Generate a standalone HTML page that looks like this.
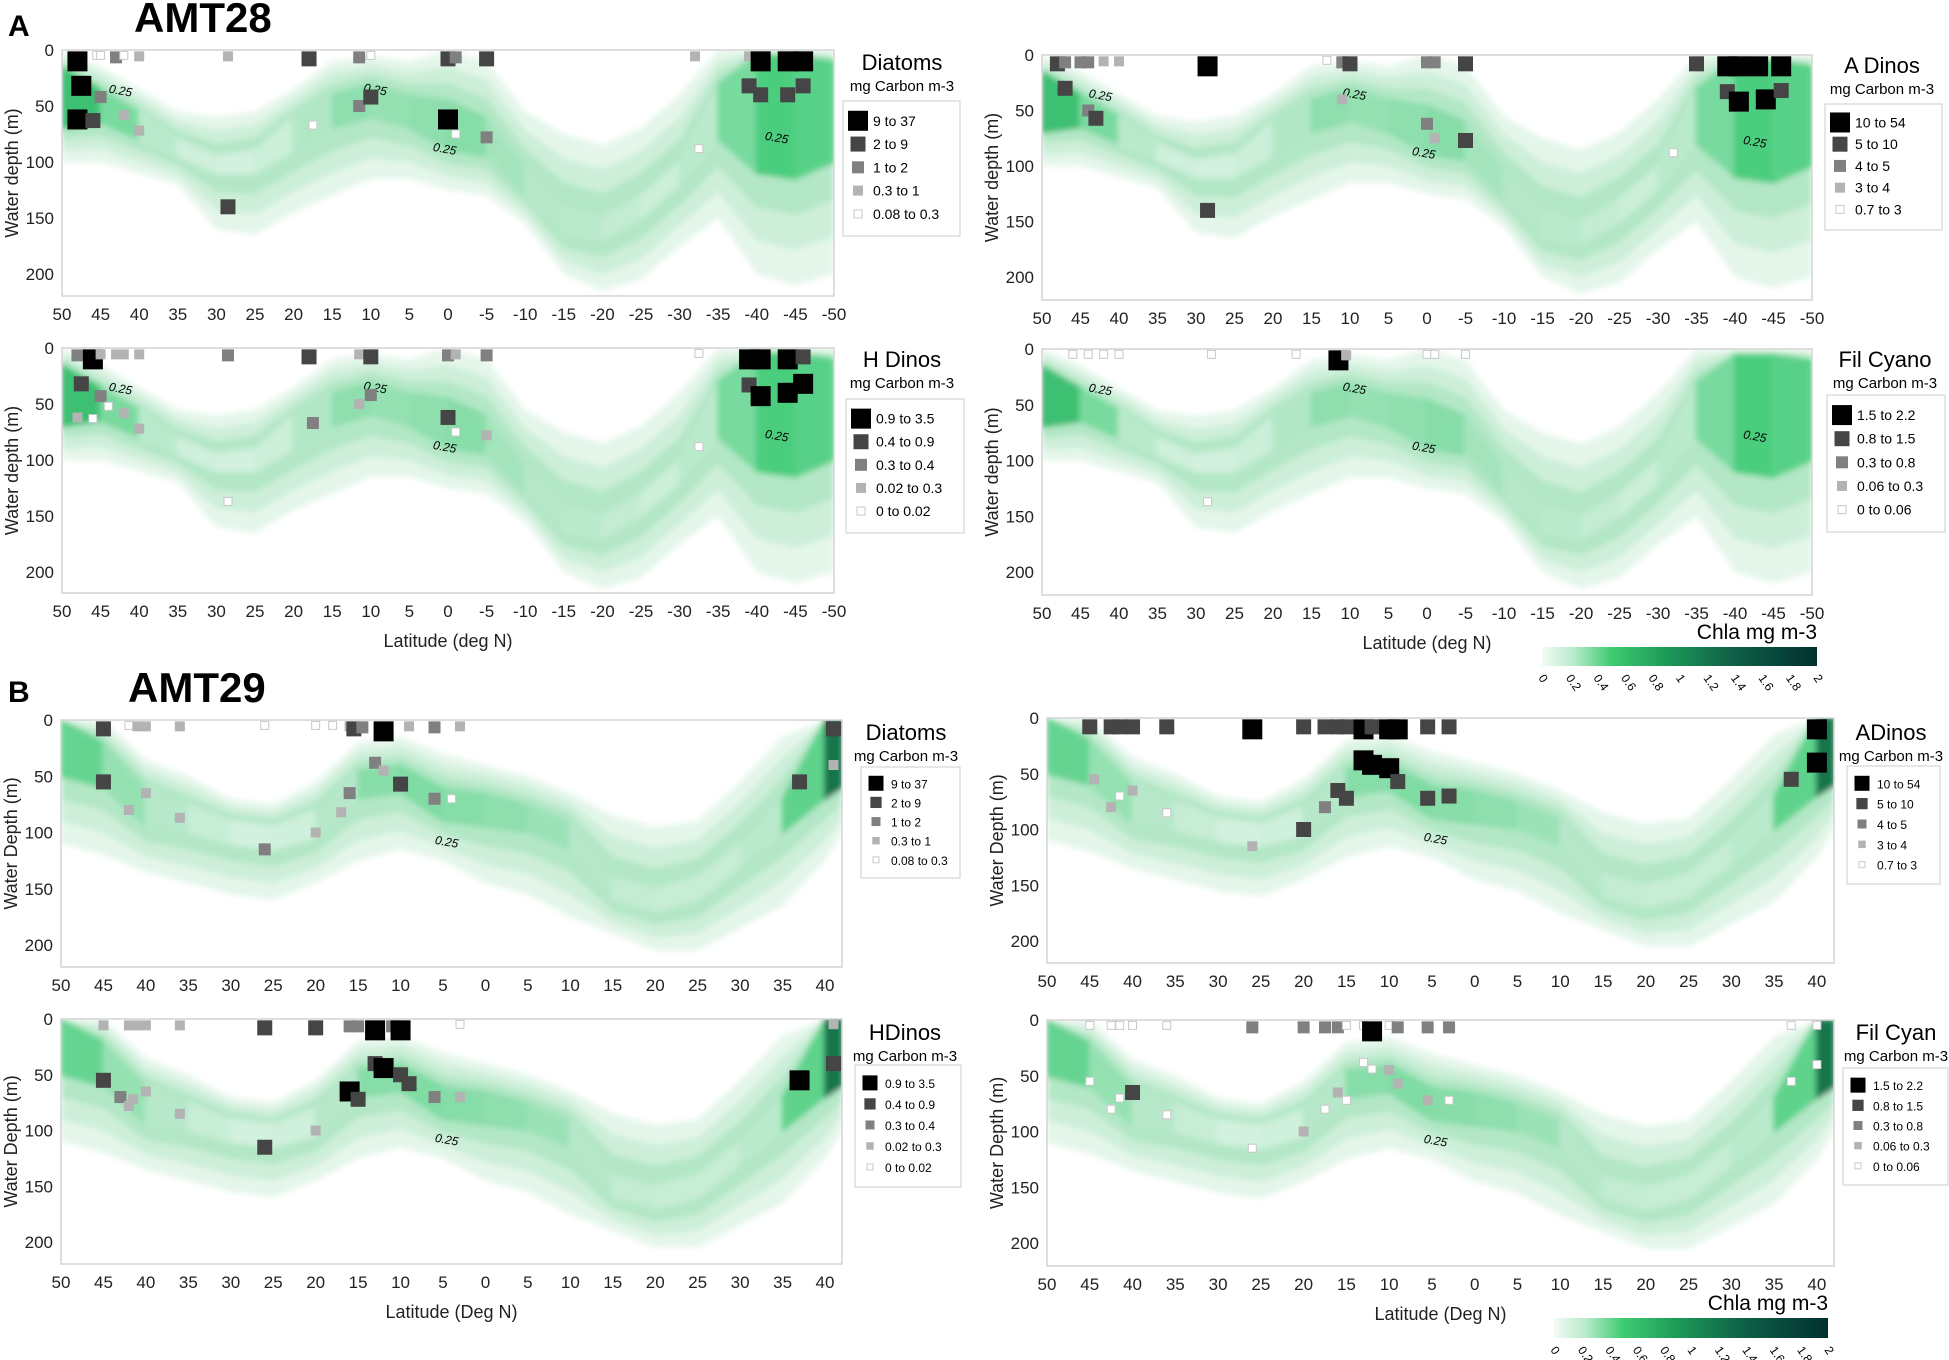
<!DOCTYPE html>
<html><head><meta charset="utf-8">
<style>
html,body{margin:0;padding:0;background:#fff;}
svg{display:block;font-family:"Liberation Sans Narrow","Liberation Sans",sans-serif;}
</style></head>
<body>
<svg id="fig" width="1949" height="1360" viewBox="0 0 1949 1360" xmlns="http://www.w3.org/2000/svg">
<defs>
<filter id="blur" x="-5%" y="-5%" width="110%" height="110%"><feGaussianBlur stdDeviation="3"/></filter>
<linearGradient id="cbar" x1="0" x2="1" y1="0" y2="0">
<stop offset="0" stop-color="#f2fbf5"/><stop offset="0.12" stop-color="#b5eac9"/><stop offset="0.25" stop-color="#3fcc72"/><stop offset="0.45" stop-color="#1e9a58"/><stop offset="0.7" stop-color="#0d5f47"/><stop offset="1" stop-color="#02302f"/>
</linearGradient>
</defs>
<text x="8" y="36" font-size="30" font-weight="bold" font-family="Liberation Sans,sans-serif">A</text>
<text x="134" y="32" font-size="42" font-weight="bold" font-family="Liberation Sans,sans-serif">AMT28</text>
<text x="8" y="702" font-size="30" font-weight="bold" font-family="Liberation Sans,sans-serif">B</text>
<text x="128" y="702" font-size="42" font-weight="bold" font-family="Liberation Sans,sans-serif">AMT29</text>
<g id="root"></g>
</svg>
<script>
// ---- Chlorophyll band data (AMT28) ----
const lat28 = [50,45,40,35,30,25,20,15,10,5,0,-5,-10,-15,-20,-25,-30,-35,-40,-45,-50];
const top28 = [0,15,35,55,60,55,35,10,5,10,0,10,55,75,85,70,40,0,0,0,0];
const bot28 = [100,100,110,120,160,165,145,130,115,115,125,130,155,200,215,205,175,150,200,210,200];
const coreTop28 = [15,35,55,80,95,90,60,40,30,40,45,60,105,140,150,130,100,30,5,5,10];
const coreBot28 = [70,65,80,95,110,110,90,70,60,70,90,95,130,165,170,150,120,80,110,115,100];
const inten28 = [0.85,0.65,0.35,0.15,0.1,0.1,0.2,0.4,0.45,0.35,0.5,0.4,0.3,0.25,0.25,0.15,0.15,0.35,0.65,0.7,0.55];
// ---- Chlorophyll band data (AMT29) ----
const lat29 = [50,45,40,35,30,25,20,15,10,5,0,-5,-10,-15,-20,-25,-30,-35,-40,-42];
const top29 = [0,0,35,50,70,75,55,20,15,30,40,50,65,85,95,90,55,15,0,0];
const bot29 = [110,120,135,145,155,160,145,125,115,125,145,155,175,190,205,205,185,165,125,100];
const coreTop29 = [0,20,60,75,90,95,80,45,40,60,65,75,90,140,150,140,110,70,0,0];
const coreBot29 = [50,60,95,100,110,115,105,70,65,90,95,100,115,160,170,160,130,100,70,60];
const inten29 = [0.65,0.5,0.3,0.25,0.1,0.1,0.15,0.4,0.5,0.45,0.45,0.4,0.35,0.2,0.2,0.15,0.2,0.3,0.9,1.0];
// ---- tick labels ----
const xTicks28 = [50,45,40,35,30,25,20,15,10,5,0,-5,-10,-15,-20,-25,-30,-35,-40,-45,-50];
const xTicks29 = [50,45,40,35,30,25,20,15,10,5,0,-5,-10,-15,-20,-25,-30,-35,-40];
const yTicks = [0,50,100,150,200];
const cbarTicks = ["0","0.2","0.4","0.6","0.8","1","1.2","1.4","1.6","1.8","2"];
// ---- markers: [lat, depth, class] ----
const diat28 = [[48,3,0],[45.5,3,4],[45,3,4],[43,3,2],[42,3,4],[40,3,3],[28.5,3,3],[18,3,1],[11.5,3,2],[10,3,4],[0,3,1],[-1,3,2],[-5,3,1],[-32,3,3],[-39,3,3],[-40.5,3,0],[-44,3,0],[-46,3,0],
 [47.5,32,0],[48,62,0],[46,63,1],[45,42,2],[42,58,3],[40,72,3],[28.5,140,1],[17.5,67,4],[11.5,50,2],[10,42,1],[0,62,0],[-1,75,4],[-5,78,2],[-32.5,88,4],[-39,32,1],[-40.5,40,1],[-44,40,1],[-46,32,1]];
const adin28 = [[48,3,1],[47,3,2],[45,3,2],[44,3,2],[42,3,3],[40,3,3],[28.5,3,0],[13,3,4],[11,3,2],[10,3,1],[0,3,2],[-1,3,2],[-5,3,1],[-35,3,1],[-39,3,0],[-40.5,3,0],[-43,3,0],[-46,3,0],
 [47,30,1],[44,50,2],[43,57,1],[11,40,3],[0,62,2],[-1,75,3],[-5,77,1],[28.5,140,1],[-32,88,4],[-39,33,1],[-40.5,42,0],[-44,40,0],[-46,32,1]];
const hdin28 = [[48,3,2],[46,3,0],[45,3,3],[43,3,3],[42,3,3],[40,3,3],[28.5,3,2],[18,3,1],[11.5,3,3],[10,3,1],[0,3,2],[-1,3,3],[-5,3,2],[-32.5,3,4],[-39,3,0],[-40.5,3,0],[-44,3,0],[-46,3,1],
 [47.5,32,1],[45,43,2],[44,52,4],[48,62,3],[46,63,4],[42,58,3],[40,72,3],[28.5,137,4],[17.5,67,2],[11.5,50,3],[10,42,2],[0,62,1],[-1,75,4],[-5,78,3],[-32.5,88,4],[-39,33,1],[-40.5,43,0],[-44,40,0],[-46,32,0]];
const cyan28 = [[46,3,4],[44,3,4],[42,3,4],[40,3,4],[28,3,4],[17,3,4],[11.5,3,0],[10.5,3,3],[0,3,4],[-1,3,4],[-5,3,4],[28.5,137,4]];
const diat29 = [[45,3,1],[42,3,4],[41,3,3],[40,3,3],[36,3,3],[26,3,4],[20,3,4],[18,3,4],[16,3,3],[15.5,3,1],[14.5,3,2],[12,3,0],[9,3,3],[6,3,2],[3,3,3],[-41,3,1],
 [45,55,1],[42,80,3],[40,65,3],[36,87,3],[26,115,2],[20,100,3],[17,82,3],[16,65,2],[13,38,2],[12,45,3],[10,57,1],[6,70,2],[4,70,4],[-37,55,1],[-41,40,3]];
const adin29 = [[45,3,1],[42.5,3,1],[41.5,3,1],[40,3,1],[36,3,1],[26,3,0],[20,3,1],[17.5,3,1],[16,3,1],[15,3,1],[13,3,0],[12,3,1],[10,3,0],[9,3,0],[5.5,3,1],[3,3,1],[-40,3,0],
 [44.5,55,3],[42.5,80,3],[41.5,70,4],[40,65,3],[36,85,4],[26,115,3],[20,100,1],[17.5,80,2],[16,65,1],[15,72,1],[13,38,0],[12,42,0],[10,45,0],[9,57,1],[5.5,72,1],[3,70,1],[-37,55,1],[-40,40,0]];
const hdin29 = [[45,3,3],[42,3,3],[41,3,3],[40,3,3],[36,3,3],[26,3,1],[20,3,1],[16,3,2],[15,3,2],[13,3,0],[11,3,2],[10,3,0],[3,3,4],
 [45,55,1],[43,70,2],[42,78,3],[41.5,72,3],[40,65,3],[36,85,3],[26,115,1],[20,100,3],[16,65,0],[15,72,1],[13,40,1],[12,44,0],[10,50,1],[9,58,1],[6,70,2],[3,70,3],[-37,55,0],[-41,40,1],[-41,2,3]];
const cyan29 = [[45,3,4],[42.5,3,4],[41.5,3,4],[40,3,4],[36,3,4],[26,3,2],[20,3,2],[17.5,3,2],[16,3,2],[15,3,4],[13,3,4],[12,3,0],[10,3,4],[9,3,2],[5.5,3,2],[3,3,2],[-37,3,4],[-40,3,4],
 [45,55,4],[40,65,1],[41.5,70,4],[42.5,80,4],[36,85,4],[26,115,4],[20,100,3],[17.5,80,4],[16,65,3],[15,72,4],[13,38,4],[12,44,4],[10,45,3],[9,57,3],[5.5,72,3],[3,72,4],[-37,55,4],[-40,40,4]];
// ---- legend labels ----
const legDiat = ["9  to  37","2  to  9","1  to  2","0.3  to  1","0.08  to  0.3"];
const legADin = ["10  to  54","5  to  10","4  to  5","3  to  4","0.7  to  3"];
const legHDin = ["0.9  to  3.5","0.4  to  0.9","0.3  to  0.4","0.02  to  0.3","0  to  0.02"];
const legCyan = ["1.5  to  2.2","0.8  to  1.5","0.3  to  0.8","0.06  to  0.3","0  to  0.06"];

const NS='http://www.w3.org/2000/svg';
const root=document.getElementById('root');
function mk(tag,attrs,parent){const e=document.createElementNS(NS,tag);for(const k in attrs)e.setAttribute(k,attrs[k]);(parent||root).appendChild(e);return e;}
const mFill=['#000','#454545','#808080','#b3b3b3','#fff'];
const mSize=[20,15,12,10,8];
function chlColor(v){
  const stops=[[0,[228,246,235]],[0.3,[178,231,198]],[0.5,[120,218,158]],[0.7,[70,203,122]],[0.85,[40,170,98]],[1,[15,90,65]]];
  for(let i=1;i<stops.length;i++){if(v<=stops[i][0]){const a=stops[i-1],b=stops[i],t=(v-a[0])/(b[0]-a[0]);const c=a[1].map((x,j)=>Math.round(x+(b[1][j]-x)*t));return 'rgb('+c.join(',')+')';}}
  return 'rgb(15,90,65)';
}
function drawPanel(p){
  const g=mk('g',{});
  
  
  const X=lat=>p.x0+(p.latMax-lat)/(p.latMax-p.latMin)*(p.x1-p.x0);
  const Y=d=>p.y0+d*(p.y200-p.y0)/200;
  const clipId='clip-'+p.name;
  const cp=mk('clipPath',{id:clipId},g);mk('rect',{x:p.x0,y:p.y0,width:p.x1-p.x0,height:p.yb-p.y0},cp);
  const bg=mk('g',{'clip-path':'url(#'+clipId+')'},g);
  const bands=mk('g',{filter:'url(#blur)'},bg);
  
  
  const L=p.lat, n=L.length;
  const lerp=(a,b,t)=>a+(b-a)*t;
  const layers=[[0,'#e4f6ea'],[0.33,'#cdefd9'],[0.66,'#b3e7c6']];
  layers.forEach(([t,col])=>{
    let up=[],dn=[];
    for(let i=0;i<n;i++){const tt=lerp(p.top[i],p.cTop[i],t),bb=lerp(p.bot[i],p.cBot[i],t);up.push(X(L[i])+','+Y(tt));dn.unshift(X(L[i])+','+Y(bb));}
    const poly=mk('polygon',{points:up.concat(dn).join(' '),fill:col},bands);
    
    
  });
  for(let i=0;i<n-1;i++){
    const v=(p.inten[i]+p.inten[i+1])/2;
    const pts=[X(L[i])+','+Y(p.cTop[i]),X(L[i+1])+','+Y(p.cTop[i+1]),X(L[i+1])+','+Y(p.cBot[i+1]),X(L[i])+','+Y(p.cBot[i])].join(' ');
    const seg=mk('polygon',{points:pts,fill:chlColor(v),stroke:chlColor(v),'stroke-width':2},bands);
    
    
  }
  p.labels25.forEach(([la,d])=>{const t=mk('text',{x:X(la),y:Y(d),'font-size':12,'font-style':'italic',transform:'rotate(10 '+X(la)+' '+Y(d)+')'},g);t.textContent='0.25';});
  const fr=mk('rect',{x:p.x0,y:p.y0,width:p.x1-p.x0,height:p.yb-p.y0,fill:'none',stroke:'#d4d4d4','stroke-width':1.5},g);
  
  p.marks.forEach(([la,d,c])=>{const s=mSize[c];const r=mk('rect',{x:X(la)-s/2,y:Y(d)-s/2+ (d<5?s/2-2:0),width:s,height:s,fill:mFill[c],stroke:c==4?'#c8c8c8':'none','stroke-width':1},g);
    });
  yTicks.forEach(v=>{const t=mk('text',{x:p.x0-8,y:Y(v)+6,'font-size':17,'text-anchor':'end',fill:'#222'},g);t.textContent=v;});
  const yt=mk('text',{x:0,y:0,'font-size':18,'text-anchor':'middle',fill:'#222',transform:'translate('+(p.x0-44)+','+((p.y0+p.yb)/2)+') rotate(-90)'},g);
  yt.textContent=p.yTitle;
  p.xt.forEach(v=>{const t=mk('text',{x:X(v),y:p.yb+24,'font-size':17,'text-anchor':'middle',fill:'#222'},g);t.textContent=p.abs?Math.abs(v):v;});
  if(p.xTitle){const t=mk('text',{x:(p.x0+p.x1)/2,y:p.yb+54,'font-size':18,'text-anchor':'middle',fill:'#222'},g);t.textContent=p.xTitle;}
  const lg=mk('g',{},g);
  const lt=mk('text',{x:p.lt[0],y:p.lt[1],'font-size':22,'text-anchor':'middle'},lg);lt.textContent=p.legTitle;
  const ls=mk('text',{x:p.lt[0],y:p.lt[1]+21,'font-size':15,'text-anchor':'middle'},lg);ls.textContent='mg Carbon m-3';
  const b=p.lb;const box=mk('rect',{x:b[0],y:b[1],width:b[2],height:b[3],fill:'#fff',stroke:'#ccc'},lg);
  const step=b[3]/5.8;const sc=p.small?0.75:1;
  p.leg.forEach((lab,i)=>{const cy=b[1]+step*(0.85+i);const s=mSize[i]*sc;
    const r=mk('rect',{x:b[0]+15-s/2,y:cy-s/2,width:s,height:s,fill:mFill[i],stroke:i==4?'#c8c8c8':'none'},lg);
    const t=mk('text',{x:b[0]+30,y:cy+5,'font-size':p.small?12:14,'xml:space':'preserve'},lg);t.textContent=lab;});
}
const A={lat:lat28,top:top28,bot:bot28,cTop:coreTop28,cBot:coreBot28,inten:inten28,latMax:50,latMin:-50,xt:xTicks28,abs:false,yTitle:'Water depth (m)'};
const B={lat:lat29,top:top29,bot:bot29,cTop:coreTop29,cBot:coreBot29,inten:inten29,latMax:50,latMin:-42,xt:xTicks29,abs:true,yTitle:'Water Depth (m)',small:true};
const lab28=[[44,38],[11,37],[2,90],[-41,80]], lab29=[[6,110]];
drawPanel(Object.assign({},A,{name:'panel-amt28-diatoms',x0:62,x1:834,y0:50,y200:274,yb:296,marks:diat28,leg:legDiat,legTitle:'Diatoms',lt:[902,70],lb:[843,101,117,135],labels25:lab28}));
drawPanel(Object.assign({},A,{name:'panel-amt28-hdinos',x0:62,x1:834,y0:348,y200:572,yb:593,marks:hdin28,leg:legHDin,legTitle:'H Dinos',lt:[902,367],lb:[846,399,118,134],labels25:lab28,xTitle:'Latitude (deg N)'}));
drawPanel(Object.assign({},A,{name:'panel-amt28-adinos',x0:1042,x1:1812,y0:55,y200:277,yb:300,marks:adin28,leg:legADin,legTitle:'A Dinos',lt:[1882,73],lb:[1825,104,117,126],labels25:lab28}));
drawPanel(Object.assign({},A,{name:'panel-amt28-filcyano',x0:1042,x1:1812,y0:349,y200:572,yb:595,marks:cyan28,leg:legCyan,legTitle:'Fil Cyano',lt:[1885,367],lb:[1827,395,118,137],labels25:lab28,xTitle:'Latitude (deg N)'}));
drawPanel(Object.assign({},B,{name:'panel-amt29-diatoms',x0:61,x1:842,y0:720,y200:945,yb:967,marks:diat29,leg:legDiat,legTitle:'Diatoms',lt:[906,740],lb:[861,767,99,111],labels25:lab29}));
drawPanel(Object.assign({},B,{name:'panel-amt29-hdinos',x0:61,x1:842,y0:1019,y200:1242,yb:1264,marks:hdin29,leg:legHDin,legTitle:'HDinos',lt:[905,1040],lb:[855,1065,106,122],labels25:lab29,xTitle:'Latitude (Deg N)'}));
drawPanel(Object.assign({},B,{name:'panel-amt29-adinos',x0:1047,x1:1834,y0:718,y200:941,yb:963,marks:adin29,leg:legADin,legTitle:'ADinos',lt:[1891,740],lb:[1847,766,93,118],labels25:lab29}));
drawPanel(Object.assign({},B,{name:'panel-amt29-filcyan',x0:1047,x1:1834,y0:1020,y200:1243,yb:1266,marks:cyan29,leg:legCyan,legTitle:'Fil Cyan',lt:[1896,1040],lb:[1843,1068,105,117],labels25:lab29,xTitle:'Latitude (Deg N)'}));
function colorbar(name,x,y,w,h){
  const g=mk('g',{});
  const r=mk('rect',{x:x,y:y,width:w,height:h,fill:'url(#cbar)'},g);
  const t=mk('text',{x:x+w,y:y-8,'font-size':21,'text-anchor':'end'},g);t.textContent='Chla mg m-3';
  cbarTicks.forEach((lab,i)=>{const tx=x+w*i/(cbarTicks.length-1)-4,ty=y+h+12;const e=mk('text',{x:tx,y:ty,'font-size':12,transform:'rotate(55 '+tx+' '+ty+')'},g);e.textContent=lab;});
}
colorbar('colorbar-amt28',1542,647,275,19);
colorbar('colorbar-amt29',1554,1318,274,20);
</script>
</body></html>
